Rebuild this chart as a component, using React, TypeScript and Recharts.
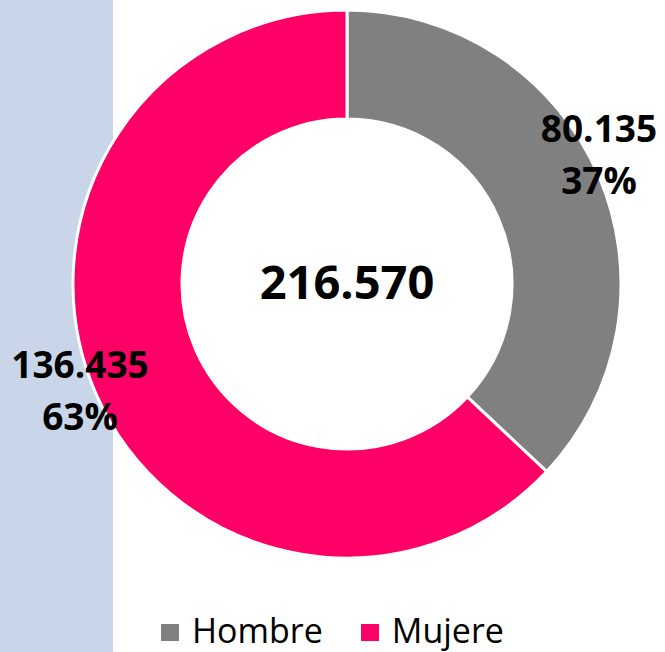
import { Legend, Pie, PieChart, Cell } from "recharts";

const categories = ["Hombre", "Mujere"];
const values = [80135, 136435];
const colors = ["#808080", "#FF0066"];
// small nudges so labels sit where the original "best fit" put them
const labelNudge = [
   { dx: -5, dy: -31 },
   { dx: -10, dy: -17 },
];

const data = categories.map((name, i) => ({ name, value: values[i] }));
const total = values.reduce((a, b) => a + b, 0);

const fmt = (n: number) => String(n).replace(/\B(?=(\d{3})+(?!\d))/g, ".");

const FONT = "'Open Sans', 'DejaVu Sans', sans-serif";
const RADIAN = Math.PI / 180;
const PIE_CX = 347;
const PIE_CY = 284;

const renderLabel = (props: any) => {
   const { cx, cy, midAngle, outerRadius, value, percent, index } = props;
   const r = outerRadius + 6;
   const x = cx + r * Math.cos(-midAngle * RADIAN) + labelNudge[index].dx;
   const y = cy + r * Math.sin(-midAngle * RADIAN) + labelNudge[index].dy;
   return (
      <text
         x={x}
         y={y}
         textAnchor="middle"
         fontFamily={FONT}
         fontWeight="bold"
         fontSize={37}
         fill="#000"
      >
         <tspan x={x} y={y}>
            {fmt(value)}
         </tspan>
         <tspan x={x} y={y + 52}>
            {Math.round(percent * 100)}%
         </tspan>
      </text>
   );
};

const RenderLegend = ({ payload }: any) => {
   return (
      <div
         style={{
            display: "flex",
            justifyContent: "center",
            gap: 38,
            fontFamily: FONT,
            fontSize: 34,
            color: "#000",
            lineHeight: "40px",
         }}
      >
         {payload?.map((entry: any, index: number) => (
            <div
               key={`item-${index}`}
               style={{ display: "flex", alignItems: "center" }}
            >
               <div
                  style={{
                     width: 18,
                     height: 17,
                     background: colors[index],
                     marginRight: 13,
                     marginTop: 4,
                  }}
               />
               <span>{entry.value}</span>
            </div>
         ))}
      </div>
   );
};

export default function App() {
   return (
      <div
         style={{
            position: "absolute",
            left: 0,
            top: 0,
            width: 665,
            height: 652,
            background: "#fff",
         }}
      >
         <div
            style={{
               position: "absolute",
               left: 0,
               top: 0,
               width: 113,
               height: 652,
               background: "#C9D5E8",
            }}
         />
         <PieChart
            width={665}
            height={652}
            margin={{ top: 0, right: 0, bottom: 0, left: 0 }}
            style={{ position: "absolute", left: 0, top: 0 }}
         >
            <Pie
               data={data}
               dataKey="value"
               nameKey="name"
               cx={PIE_CX}
               cy={PIE_CY}
               innerRadius={165}
               outerRadius={274}
               startAngle={90}
               endAngle={-270}
               stroke="#fff"
               strokeWidth={3}
               label={renderLabel}
               labelLine={false}
               isAnimationActive={false}
            >
               {data.map((d, i) => (
                  <Cell key={d.name} fill={colors[i]} />
               ))}
            </Pie>
            <Legend
               verticalAlign="bottom"
               content={<RenderLegend />}
               wrapperStyle={{ bottom: 2 }}
            />
         </PieChart>
         {/* total in the hole */}
         <div
            style={{
               position: "absolute",
               left: PIE_CX - 150,
               width: 300,
               top: PIE_CY - 26,
               textAlign: "center",
               fontFamily: FONT,
               fontWeight: "bold",
               fontSize: 47,
               lineHeight: "47px",
               color: "#000",
               pointerEvents: "none",
            }}
         >
            {fmt(total)}
         </div>
      </div>
   );
}
